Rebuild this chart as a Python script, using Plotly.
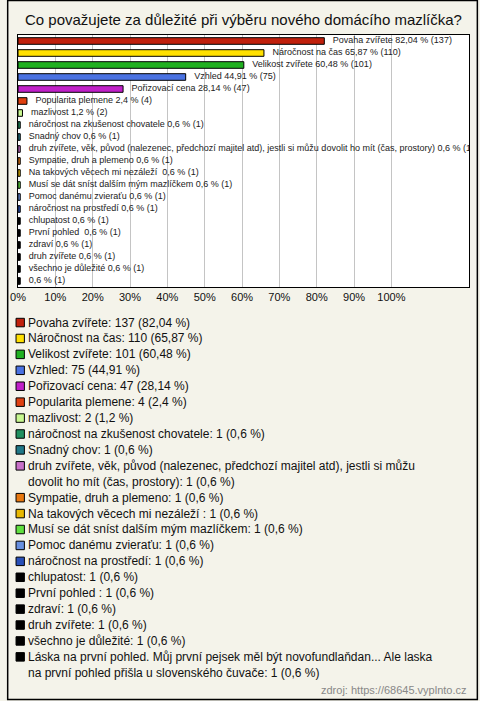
import textwrap
import plotly.graph_objects as go

# ---------------- data ----------------
categories = [
    "Povaha zvířete",
    "Náročnost na čas",
    "Velikost zvířete",
    "Vzhled",
    "Pořizovací cena",
    "Popularita plemene",
    "mazlivost",
    "náročnost na zkušenost chovatele",
    "Snadný chov",
    "druh zvířete, věk, původ (nalezenec, předchozí majitel atd), jestli si můžu dovolit ho mít (čas, prostory)",
    "Sympatie, druh a plemeno",
    "Na takových věcech mi nezáleží ",
    "Musí se dát sníst dalším mým mazlíčkem",
    "Pomoc danému zvieraťu",
    "náročnost na prostředí",
    "chlupatost",
    "První pohled ",
    "zdraví",
    "druh zvířete",
    "všechno je důležité",
    "Láska na první pohled. Můj první pejsek měl být novofundlaňdan... Ale laska na první pohled přišla u slovenského čuvače",
]
bar_label_names = categories[:-1] + [""]
counts = [137, 110, 101, 75, 47, 4, 2, 1, 1, 1, 1, 1, 1, 1, 1, 1, 1, 1, 1, 1, 1]
percents = [82.04, 65.87, 60.48, 44.91, 28.14, 2.4, 1.2, 0.6, 0.6, 0.6, 0.6, 0.6,
            0.6, 0.6, 0.6, 0.6, 0.6, 0.6, 0.6, 0.6, 0.6]
colors = ["#C0200C", "#FFE000", "#20B020", "#4A72E2", "#C020C8", "#E04010",
          "#C8F890", "#209060", "#207888", "#C870C8", "#E87810", "#E8B800",
          "#60E040", "#6890E0", "#2850B8", "#000000", "#000000", "#000000",
          "#000000", "#000000", "#000000"]
tick_values = [0, 10, 20, 30, 40, 50, 60, 70, 80, 90, 100]
tick_labels = [f"{v}%" for v in tick_values]
title_text = "Co považujete za důležité při výběru nového domácího mazlíčka?"
source_text = "zdroj: https://68645.vyplnto.cz"


def fmt(p):
    s = f"{p:.2f}".rstrip("0").rstrip(".")
    return s.replace(".", ",")


pct_str = [fmt(p) for p in percents]
idx = list(range(len(categories)))
bar_labels = [(n + " " if n else "") + f"{p} % ({c})"
              for n, p, c in zip(bar_label_names, pct_str, counts)]

# ---------------- layout geometry ----------------
W, H = 480, 701
PL, PR, PT, PB = 11, 470, 35, 287  # plot area in pixels
pw, ph = PR - PL, PB - PT


def px(x):
    return (x - PL) / pw


def py(y):
    return (PB - y) / ph


fig = go.Figure()
fig.add_trace(go.Bar(
    x=percents, y=idx, orientation="h",
    marker=dict(color=colors, line=dict(color="#000000", width=1)),
    width=0.55, showlegend=False, hoverinfo="skip",
))
fig.add_trace(go.Scatter(
    x=percents, y=idx, mode="markers+text", text=bar_labels,
    textposition="middle right",
    marker=dict(size=12, color="rgba(0,0,0,0)"),
    textfont=dict(family="Liberation Sans, Arial, sans-serif", size=9, color="#222222"),
    cliponaxis=True, showlegend=False, hoverinfo="skip",
))

shapes = []
annotations = []

# legend (custom)
line_h = 15.92
y0 = 322.5
line_no = 0
for name, c, p, col in zip(categories, counts, pct_str, colors):
    full = f"{name}: {c} ({p} %)"
    lines = textwrap.wrap(full, width=76)
    yc = y0 + line_no * line_h
    shapes.append(dict(type="rect", xref="paper", yref="paper",
                       x0=px(9), x1=px(17.5), y0=py(yc + 4.3), y1=py(yc - 4.2),
                       fillcolor=col, line=dict(color="#000000", width=1)))
    for k, ln in enumerate(lines):
        annotations.append(dict(
            text=ln, xref="paper", yref="paper", x=px(19.5), y=py(yc + k * line_h),
            xanchor="left", yanchor="middle", showarrow=False,
            font=dict(family="Liberation Sans, Arial, sans-serif", size=12, color="#111111"),
        ))
    line_no += len(lines)

annotations.append(dict(
    text=title_text, xref="paper", yref="paper", x=px(240), y=py(19),
    xanchor="center", yanchor="middle", showarrow=False,
    font=dict(family="Liberation Sans, Arial, sans-serif", size=15, color="#111111"),
))
annotations.append(dict(
    text=source_text, xref="paper", yref="paper", x=px(470), y=py(690),
    xanchor="right", yanchor="middle", showarrow=False,
    font=dict(family="Liberation Sans, Arial, sans-serif", size=11, color="#888888"),
))

# outer border
shapes.append(dict(type="rect", xref="paper", yref="paper",
                   x0=px(0.5), x1=px(478.5), y0=py(699.5), y1=py(0.5),
                   line=dict(color="#000000", width=1.5), fillcolor="rgba(0,0,0,0)",
                   layer="below"))

fig.update_layout(
    width=W, height=H,
    margin=dict(l=PL, r=W - PR, t=PT, b=H - PB, pad=0),
    paper_bgcolor="#F4F3EA", plot_bgcolor="#FFFFFF",
    xaxis=dict(range=[0, pw / 3.8], tickvals=tick_values, ticktext=tick_labels,
               showgrid=True, gridcolor="#C4C4C4", gridwidth=1, zeroline=False,
               showline=True, linecolor="#000000", linewidth=1.2, mirror=True,
               ticks="", ticklen=0,
               tickfont=dict(family="Liberation Sans, Arial, sans-serif", size=11, color="#111111")),
    yaxis=dict(range=[len(categories) - 0.5, -0.5], showticklabels=False,
               showgrid=False, zeroline=False, showline=True, linecolor="#000000",
               linewidth=1.2, mirror=True, ticks=""),
    shapes=shapes, annotations=annotations,
    bargap=0.45, showlegend=False,
)

fig.write_html("out.html", config={"displayModeBar": False},
               post_script="document.body.style.margin='0';document.body.style.overflow='hidden';")
